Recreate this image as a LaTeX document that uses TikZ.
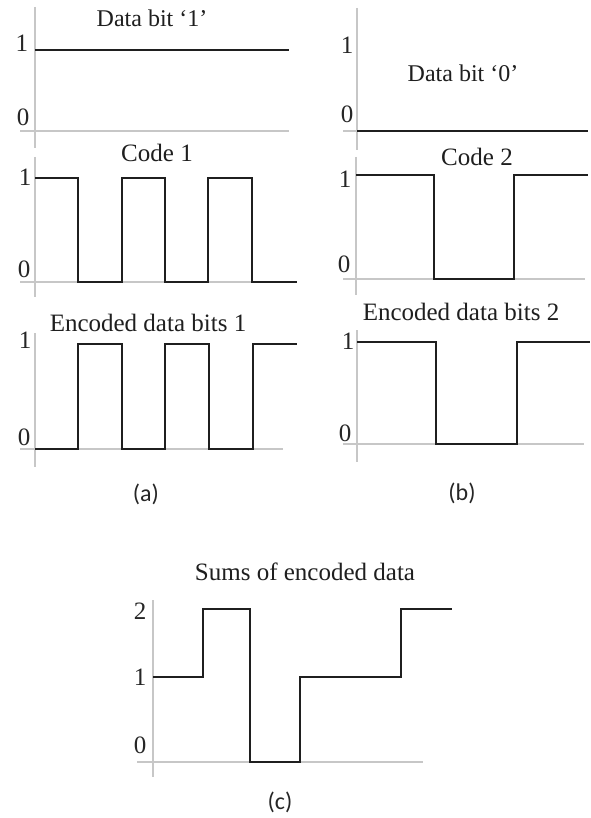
\documentclass[tikz,border=0pt]{standalone}
\usepackage{fontspec}
\setmainfont{Liberation Serif}
\newfontfamily\capfont{Carlito}
\begin{document}
\begin{tikzpicture}[x=1pt,y=-1pt,
  axis/.style={draw=black!22, line width=1.8pt},
  wave/.style={draw=black!88, line width=2.8pt, line join=miter},
  tick/.style={font=\fontsize{25}{28}\selectfont, text=black!85, inner sep=0pt, anchor=center},
  ttl/.style={font=\fontsize{25}{28}\selectfont, text=black!88, inner sep=0pt, anchor=base},
  dttl/.style={font=\fontsize{24}{27}\selectfont, text=black!88, inner sep=0pt, anchor=base},
  sublabel/.style={font=\capfont\fontsize{24}{27}\selectfont, text=black!85, inner sep=0pt, anchor=center}]
\useasboundingbox[fill=white] (0,0) rectangle (590,818);

% ---------- panel (a) ----------
\draw[axis] (35,7) -- (35,148);
\draw[axis] (20,131) -- (289,131);
\draw[wave] (35,50) -- (289,50);
\node[dttl] (ta1) at (152,27) {Data bit ‘1’};
\node[tick] (a1one) at (22,43) {1};
\node[tick] (a1zero) at (23,117) {0};

\draw[axis] (35,157) -- (35,297);
\draw[axis] (20,282) -- (297,282);
\draw[wave] (35,178) -- (78,178) -- (78,282) -- (122,282) -- (122,178) -- (165,178)
  -- (165,282) -- (208,282) -- (208,178) -- (252,178) -- (252,282) -- (297,282);
\node[ttl] (ta2) at (157,162) {Code 1};
\node[tick] (a2one) at (25,177) {1};
\node[tick] (a2zero) at (24,269) {0};

\draw[axis] (35,333) -- (35,467);
\draw[axis] (20,449) -- (283,449);
\draw[wave] (35,449) -- (78,449) -- (78,344) -- (122,344) -- (122,449) -- (165,449)
  -- (165,344) -- (209,344) -- (209,449) -- (253,449) -- (253,344) -- (297,344);
\node[ttl] (ta3) at (148,331) {Encoded data bits 1};
\node[tick] (a3one) at (25,340) {1};
\node[tick] (a3zero) at (24,437) {0};

\node[sublabel] (capa) at (146,494) {(a)};

% ---------- panel (b) ----------
\draw[axis] (357,8) -- (357,150);
\draw[axis] (343,131) -- (588,131);
\draw[wave] (357,131) -- (588,131);
\node[dttl] (tb1) at (463,82) {Data bit ‘0’};
\node[tick] (b1one) at (347,45) {1};
\node[tick] (b1zero) at (347,114) {0};

\draw[axis] (356,157) -- (356,295);
\draw[axis] (343,279) -- (585,279);
\draw[wave] (356,175) -- (434,175) -- (434,279) -- (514,279) -- (514,175) -- (588,175);
\node[ttl] (tb2) at (477,166) {Code 2};
\node[tick] (b2one) at (345,179) {1};
\node[tick] (b2zero) at (344,264) {0};

\draw[axis] (357,330) -- (357,462);
\draw[axis] (343,444) -- (584,444);
\draw[wave] (357,342) -- (436,342) -- (436,444) -- (517,444) -- (517,342) -- (590,342);
\node[ttl] (tb3) at (461,320) {Encoded data bits 2};
\node[tick] (b3one) at (348,341) {1};
\node[tick] (b3zero) at (345,433) {0};

\node[sublabel] (capb) at (462,493) {(b)};

% ---------- panel (c) ----------
\draw[axis] (153,600) -- (153,777);
\draw[axis] (137,762) -- (423,762);
\draw[wave] (153,677) -- (203,677) -- (203,609) -- (250,609) -- (250,762) -- (300,762)
  -- (300,677) -- (401,677) -- (401,609) -- (452,609);
\node[ttl] (tc) at (305,580) {Sums of encoded data};
\node[tick] (ctwo) at (140,611) {2};
\node[tick] (cone) at (140,677) {1};
\node[tick] (czero) at (140,745) {0};

\node[sublabel] (capc) at (280,802) {(c)};
\end{tikzpicture}
\end{document}
